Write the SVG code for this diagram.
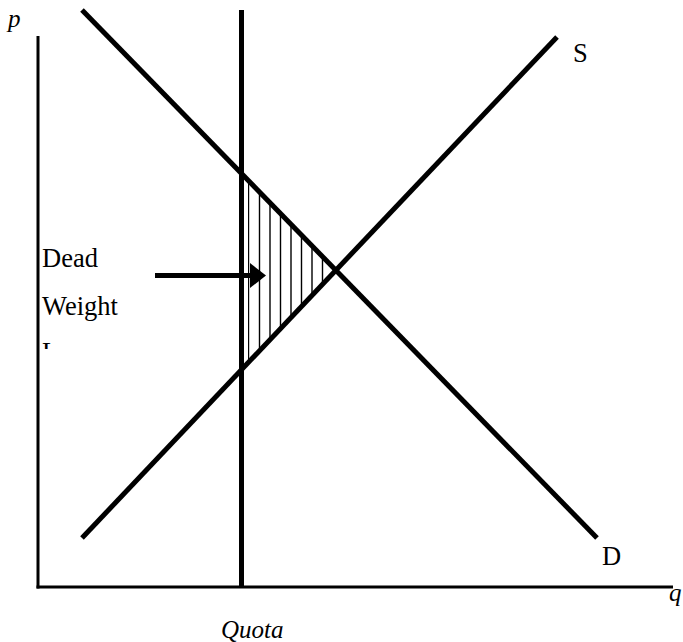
<svg xmlns="http://www.w3.org/2000/svg" width="683" height="642" viewBox="0 0 683 642">
  <style>
    .t { font-family: "Liberation Serif", "Times New Roman", serif; font-size: 26.5px; fill: #000; }
    .i { font-style: italic; font-size: 25px; }
    .axis { stroke: #000; stroke-width: 3; fill: none; }
    .curve { stroke: #000; stroke-width: 5; fill: none; }
    .hatch { stroke: #000; stroke-width: 1.4; }
  </style>
  <defs>
    <clipPath id="tri">
      <polygon points="248,180.2 248,362.9 336,270"/>
    </clipPath>
    <clipPath id="cut">
      <rect x="0" y="0" width="52" height="349"/>
    </clipPath>
  </defs>

  <g id="axes">
    <line class="axis" x1="38" y1="36" x2="38" y2="588.5"/>
    <line class="axis" x1="36.5" y1="587" x2="673" y2="587"/>
  </g>

  <g id="deadweight-area" clip-path="url(#tri)">
    <g class="hatch">
      <line x1="248.5" y1="170" x2="248.5" y2="370"/>
      <line x1="259.5" y1="170" x2="259.5" y2="370"/>
      <line x1="270" y1="170" x2="270" y2="370"/>
      <line x1="280.5" y1="170" x2="280.5" y2="370"/>
      <line x1="291" y1="170" x2="291" y2="370"/>
      <line x1="301.5" y1="170" x2="301.5" y2="370"/>
      <line x1="312" y1="170" x2="312" y2="370"/>
      <line x1="322.5" y1="170" x2="322.5" y2="370"/>
    </g>
  </g>

  <g id="connectors">
    <line id="quota-line" class="curve" x1="241.5" y1="10" x2="241.5" y2="587"/>
    <line id="demand" class="curve" x1="82" y1="10" x2="597" y2="538"/>
    <line id="supply" class="curve" x1="82" y1="538" x2="557" y2="37"/>
    <g id="arrow">
      <line x1="155" y1="275.5" x2="252" y2="275.5" stroke="#000" stroke-width="5"/>
      <polygon points="250,263 266,275.5 250,288" fill="#000"/>
    </g>
  </g>

  <g id="label-p"><text class="t i" x="8" y="27">p</text></g>
  <g id="label-S"><text class="t" x="573" y="62">S</text></g>
  <g id="label-D"><text class="t" x="602" y="565">D</text></g>
  <g id="label-q"><text class="t i" x="669" y="601">q</text></g>
  <g id="label-quota"><text class="t i" x="221" y="638">Quota</text></g>
  <g id="label-dwl">
    <text class="t" x="42" y="267">Dead</text>
    <text class="t" x="42" y="315">Weight</text>
    <text class="t" x="42" y="361" clip-path="url(#cut)">Loss</text>
  </g>
</svg>
